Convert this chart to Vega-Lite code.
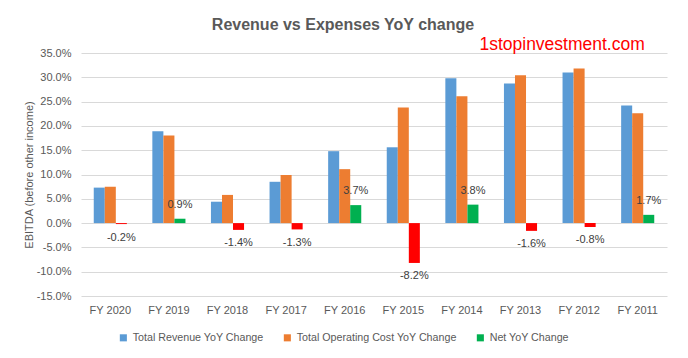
{
  "$schema": "https://vega.github.io/schema/vega-lite/v6.json",
  "width": 586,
  "height": 243,
  "autosize": {"type": "none"},
  "padding": {"left": 81, "top": 53, "right": 21, "bottom": 62},
  "background": "white",
  "title": {
    "text": "Revenue vs Expenses YoY change",
    "font": "Liberation Sans",
    "fontSize": 16,
    "fontWeight": "bold",
    "color": "#595959",
    "anchor": "middle",
    "dx": -31,
    "offset": 3
  },
  "config": {
    "font": "Liberation Sans, sans-serif",
    "view": {"stroke": null},
    "locale": {
      "number": {"decimal": ".", "thousands": ",", "grouping": [3], "currency": ["$", ""], "minus": "-"}
    }
  },
  "data": {
    "values": [
      {"year": "FY 2020", "series": "Total Revenue YoY Change", "value": 0.073},
      {"year": "FY 2020", "series": "Total Operating Cost YoY Change", "value": 0.075},
      {"year": "FY 2020", "series": "Net YoY Change", "value": -0.002},
      {"year": "FY 2019", "series": "Total Revenue YoY Change", "value": 0.189},
      {"year": "FY 2019", "series": "Total Operating Cost YoY Change", "value": 0.180},
      {"year": "FY 2019", "series": "Net YoY Change", "value": 0.009},
      {"year": "FY 2018", "series": "Total Revenue YoY Change", "value": 0.044},
      {"year": "FY 2018", "series": "Total Operating Cost YoY Change", "value": 0.058},
      {"year": "FY 2018", "series": "Net YoY Change", "value": -0.014},
      {"year": "FY 2017", "series": "Total Revenue YoY Change", "value": 0.085},
      {"year": "FY 2017", "series": "Total Operating Cost YoY Change", "value": 0.099},
      {"year": "FY 2017", "series": "Net YoY Change", "value": -0.013},
      {"year": "FY 2016", "series": "Total Revenue YoY Change", "value": 0.148},
      {"year": "FY 2016", "series": "Total Operating Cost YoY Change", "value": 0.111},
      {"year": "FY 2016", "series": "Net YoY Change", "value": 0.037},
      {"year": "FY 2015", "series": "Total Revenue YoY Change", "value": 0.156},
      {"year": "FY 2015", "series": "Total Operating Cost YoY Change", "value": 0.238},
      {"year": "FY 2015", "series": "Net YoY Change", "value": -0.082},
      {"year": "FY 2014", "series": "Total Revenue YoY Change", "value": 0.298},
      {"year": "FY 2014", "series": "Total Operating Cost YoY Change", "value": 0.261},
      {"year": "FY 2014", "series": "Net YoY Change", "value": 0.038},
      {"year": "FY 2013", "series": "Total Revenue YoY Change", "value": 0.287},
      {"year": "FY 2013", "series": "Total Operating Cost YoY Change", "value": 0.304},
      {"year": "FY 2013", "series": "Net YoY Change", "value": -0.016},
      {"year": "FY 2012", "series": "Total Revenue YoY Change", "value": 0.310},
      {"year": "FY 2012", "series": "Total Operating Cost YoY Change", "value": 0.318},
      {"year": "FY 2012", "series": "Net YoY Change", "value": -0.008},
      {"year": "FY 2011", "series": "Total Revenue YoY Change", "value": 0.242},
      {"year": "FY 2011", "series": "Total Operating Cost YoY Change", "value": 0.226},
      {"year": "FY 2011", "series": "Net YoY Change", "value": 0.017}
    ]
  },
  "encoding": {
    "x": {
      "field": "year",
      "type": "nominal",
      "sort": null,
      "scale": {"paddingInner": 0.435, "paddingOuter": 0.2175},
      "axis": {
        "title": null,
        "labelAngle": 0,
        "ticks": false,
        "domain": false,
        "labelFontSize": 11,
        "labelColor": "#595959",
        "labelPadding": 8
      }
    },
    "y": {
      "field": "value",
      "type": "quantitative",
      "scale": {"domain": [-0.15, 0.35], "nice": false, "zero": false},
      "axis": {
        "title": "EBITDA (before other income)",
        "titleFontWeight": "normal",
        "titleFontSize": 11,
        "titleColor": "#595959",
        "titlePadding": 2,
        "format": ".1%",
        "values": [-0.15, -0.1, -0.05, 0, 0.05, 0.1, 0.15, 0.2, 0.25, 0.3, 0.35],
        "domain": false,
        "ticks": false,
        "labelFontSize": 11,
        "labelColor": "#595959",
        "labelPadding": 10,
        "gridColor": "#D9D9D9",
        "gridWidth": 1
      }
    }
  },
  "layer": [
    {
      "mark": {"type": "bar"},
      "encoding": {
        "xOffset": {
          "field": "series",
          "type": "nominal",
          "scale": {
            "domain": ["Total Revenue YoY Change", "Total Operating Cost YoY Change", "Net YoY Change"],
            "paddingInner": 0,
            "paddingOuter": 0
          }
        },
        "color": {
          "field": "series",
          "type": "nominal",
          "condition": {"test": "datum.series == 'Net YoY Change' && datum.value < 0", "value": "#FF0000"},
          "scale": {
            "domain": ["Total Revenue YoY Change", "Total Operating Cost YoY Change", "Net YoY Change"],
            "range": ["#5B9BD5", "#ED7D31", "#00B050"]
          },
          "legend": {
            "title": null,
            "orient": "none",
            "direction": "horizontal",
            "legendX": 37,
            "legendY": 279,
            "symbolType": "square",
            "symbolSize": 50,
            "symbolStrokeWidth": 0,
            "labelFontSize": 10.7,
            "labelColor": "#595959",
            "labelOffset": 4,
            "labelLimit": 300,
            "columnPadding": 18
          }
        }
      }
    },
    {
      "transform": [{"filter": "datum.series == 'Net YoY Change' && datum.value >= 0"}],
      "mark": {"type": "text", "dy": -14, "baseline": "middle", "fontSize": 11, "color": "#404040"},
      "encoding": {
        "xOffset": {"field": "series", "type": "nominal"},
        "text": {"field": "value", "type": "quantitative", "format": ".1%"}
      }
    },
    {
      "transform": [{"filter": "datum.series == 'Net YoY Change' && datum.value < 0"}],
      "mark": {"type": "text", "dy": 13.5, "baseline": "middle", "fontSize": 11, "color": "#404040"},
      "encoding": {
        "xOffset": {"field": "series", "type": "nominal"},
        "text": {"field": "value", "type": "quantitative", "format": ".1%"}
      }
    },
    {
      "data": {"values": [{"site": "1stopinvestment.com", "year": "FY 2012", "value": 0.35}]},
      "mark": {"type": "text", "fontSize": 17.5, "color": "#FF0000", "baseline": "middle", "dx": -17, "dy": -8},
      "encoding": {
        "text": {"field": "site", "type": "nominal"}
      }
    }
  ]
}
